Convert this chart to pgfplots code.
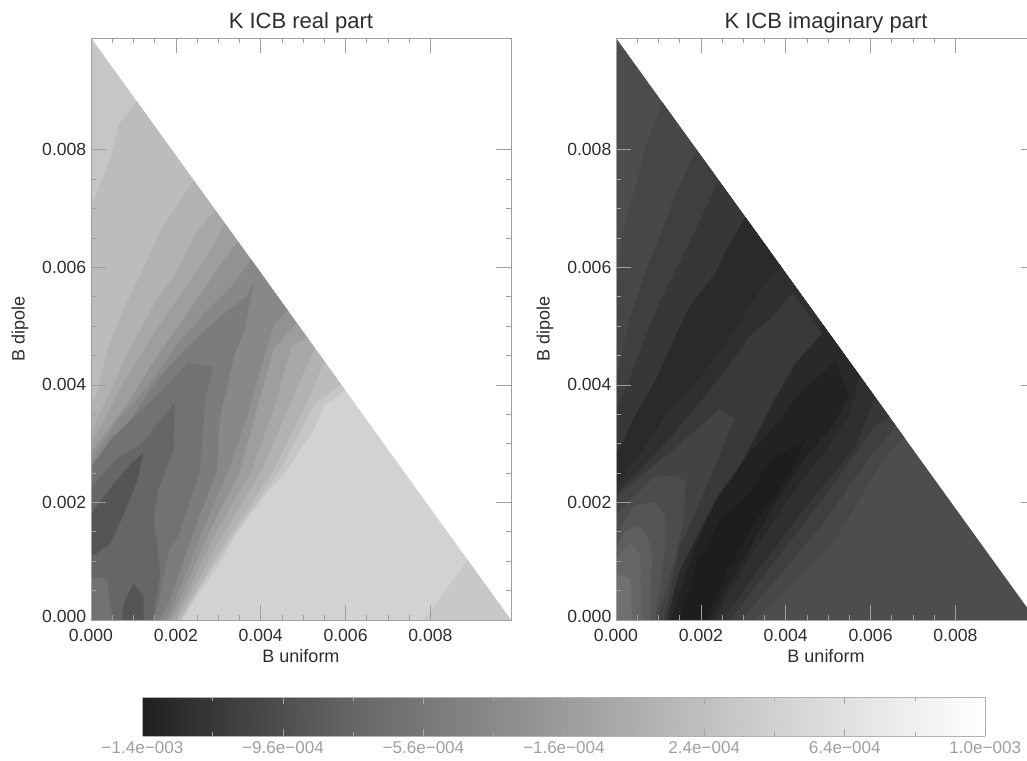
\documentclass[border=0pt]{standalone}
\usepackage{fontspec}
\setmainfont{Liberation Sans}
\usepackage{pgfplots}
\pgfplotsset{compat=1.18}
\definecolor{txt}{HTML}{2E2E2E}
\newcommand{\G}[1]{\definecolor{c#1}{HTML}{#1#1#1}}
\G{D2}\G{C8}\G{C6}\G{BC}\G{B2}\G{A8}\G{9E}\G{92}\G{88}\G{7C}\G{72}\G{66}\G{55}
\G{4D}\G{47}\G{3F}\G{37}\G{2F}\G{2A}\G{29}\G{22}\G{1D}\G{39}\G{43}\G{4C}\G{5E}\G{70}
\pgfplotsset{
  panel/.style={
    scale only axis, width=315pt, height=436.5pt, at={(#1,105pt)}, anchor=south west,
    xmin=0, xmax=0.0099, ymin=0, ymax=0.0099,
    xtick={0,0.002,0.004,0.006,0.008}, ytick={0,0.002,0.004,0.006,0.008},
    yticklabels={\raisebox{6pt}{0.000},0.002,0.004,0.006,0.008},
    scaled ticks=false, minor tick num=3,
    tick align=inside, major tick length=11pt, minor tick length=4pt,
    every tick/.style={gray!75, line width=0.5pt},
    axis line style={gray!75, line width=0.7pt},
    axis on top,
    tick label style={font=\fontsize{13.2}{15}\selectfont, text=txt,
      /pgf/number format/fixed, /pgf/number format/fixed zerofill, /pgf/number format/precision=3, /pgf/number format/assume math mode=true},
    title style={font=\fontsize{16.5}{18}\selectfont, text=txt, at={(0.5,1)}, anchor=south, yshift=-6pt},
    xlabel=B uniform, ylabel=B dipole,
    every axis x label/.style={at={(axis description cs:0.5,0)}, anchor=north, yshift=-18.5pt, font=\fontsize{13.5}{15}\selectfont, text=txt},
    every axis y label/.style={at={(axis description cs:-0.169,0.5)}, rotate=90, anchor=center, font=\fontsize{13.5}{15}\selectfont, text=txt},
    xticklabel style={yshift=-3pt},
  },
  reg/.style={fill=c#1, draw=none, forget plot},
}
\begin{document}
\begin{tikzpicture}
\clip[use as bounding box] (0,0) rectangle (770.25pt,570pt);
% ---------- real part
\begin{axis}[panel=68.25pt, title={K ICB real part}]
\addplot[reg=D2] coordinates {(0,0)(0.0099,0)(0,0.0099)} --cycle;
\addplot[reg=C8] coordinates {(0.00785,0)(0.0081,0.00025)(0.00888,0.00102)(0.0099,0)} --cycle;
\addplot[reg=C6] coordinates {(0,0)(0.00215,0)(0.00238,0.00028)(0.00297,0.0009)(0.00348,0.00153)(0.00407,0.0021)(0.00462,0.00255)(0.00493,0.0029)(0.00525,0.00323)(0.00549,0.00365)(0.006,0.0039)(0,0.0099)} --cycle;
\addplot[reg=BC] coordinates {(0,0)(0.00212,0)(0.00234,0.00028)(0.00332,0.00142)(0.00445,0.00255)(0.00528,0.00369)(0.0059,0.004)(0.00108,0.00882)(0.00065,0.00842)(0.00045,0.00783)(0,0.00704)} --cycle;
\addplot[reg=B2] coordinates {(0,0)(0.00208,0)(0.0023,0.00028)(0.00324,0.00142)(0.0043,0.00255)(0.00509,0.00369)(0.0055,0.0044)(0.00242,0.00748)(0.00165,0.00664)(0.00118,0.0059)(0.00071,0.0052)(0.00039,0.00462)(0.00016,0.00393)(0,0.0036)} --cycle;
\addplot[reg=A8] coordinates {(0,0)(0.002,0)(0.00222,0.00028)(0.00308,0.00142)(0.00403,0.00255)(0.0047,0.00369)(0.00527,0.00463)(0.00293,0.00697)(0.00252,0.00664)(0.00205,0.00596)(0.0015,0.00539)(0.00087,0.00454)(0.00039,0.0038)(0,0.0032)} --cycle;
\addplot[reg=9E] coordinates {(0,0)(0.00193,0)(0.00214,0.00028)(0.00289,0.00142)(0.00379,0.00255)(0.00435,0.00369)(0.00472,0.00465)(0.0051,0.0048)(0.00315,0.00675)(0.00283,0.0063)(0.00236,0.00579)(0.00181,0.00522)(0.00134,0.00471)(0.00071,0.00397)(0.00031,0.0034)(0,0.003)} --cycle;
\addplot[reg=92] coordinates {(0,0)(0.00185,0)(0.00206,0.00028)(0.00273,0.00142)(0.00352,0.00255)(0.00395,0.00369)(0.0043,0.0046)(0.00485,0.00505)(0.00346,0.00644)(0.00307,0.00607)(0.0026,0.00556)(0.00205,0.00499)(0.0015,0.00443)(0.00087,0.00369)(0,0.00285)} --cycle;
\addplot[reg=88] coordinates {(0,0)(0.00175,0)(0.00195,0.00028)(0.00257,0.00142)(0.00324,0.00255)(0.00365,0.0034)(0.00386,0.0039)(0.00417,0.00471)(0.00433,0.00505)(0.00464,0.00526)(0.00378,0.00613)(0.00331,0.00567)(0.00268,0.00522)(0.00205,0.00471)(0.00134,0.00397)(0.00063,0.0034)(0,0.0027)} --cycle;
\addplot[reg=7C] coordinates {(0,0)(0.0016,0)(0.00183,0.00028)(0.00238,0.00142)(0.00297,0.00255)(0.00303,0.0034)(0.00323,0.00403)(0.00338,0.0045)(0.00362,0.00494)(0.00386,0.0058)(0.0037,0.00553)(0.00315,0.00522)(0.00268,0.00493)(0.00228,0.00465)(0.00157,0.0041)(0.00102,0.0035)(0,0.00255)} --cycle;
\addplot[reg=72] coordinates {(0,0)(0.0015,0)(0.00185,0.0012)(0.00206,0.00142)(0.00257,0.00255)(0.00268,0.00369)(0.00287,0.00431)(0.00228,0.00437)(0.0014,0.0037)(0.0005,0.0031)(0,0.0026)} --cycle;
\addplot[reg=66] coordinates {(0.0005,0)(0.00038,0.0007)(0,0.00073)(0,0.00225)(0.0006,0.00275)(0.0012,0.003)(0.00197,0.00369)(0.00195,0.0029)(0.00157,0.0022)(0.00148,0.0017)(0.00164,0.0008)(0.00145,0)} --cycle;
\addplot[reg=55] coordinates {(0,0.00107)(0.00046,0.0013)(0.00077,0.0018)(0.00109,0.00237)(0.00124,0.00285)(0.00097,0.00268)(0.00054,0.00232)(0,0.00181)} --cycle;
\addplot[reg=55] coordinates {(0.00073,0)(0.00077,0.00028)(0.001,0.00062)(0.00124,0.0004)(0.00124,0)} --cycle;
\end{axis}
% ---------- imaginary part
\begin{axis}[panel=462pt, title={K ICB imaginary part}]
\addplot[reg=4D] coordinates {(0,0)(0.0099,0)(0,0.0099)} --cycle;
\addplot[reg=47] coordinates {(0,0)(0.00325,0)(0.0042,0.00065)(0.0051,0.0013)(0.0055,0.00175)(0.00628,0.00272)(0.0068,0.0031)(0.0011,0.0088)(0.00072,0.0081)(0.00017,0.00658)(0,0.0057)} --cycle;
\addplot[reg=3F] coordinates {(0,0)(0.00295,0)(0.0039,0.0008)(0.0049,0.00165)(0.0059,0.0027)(0.0066,0.0033)(0.0019,0.008)(0.00135,0.00715)(0.0011,0.00664)(0.00071,0.00595)(0.00031,0.0051)(0.00008,0.00437)(0,0.0039)} --cycle;
\addplot[reg=37] coordinates {(0,0)(0.0027,0)(0.0037,0.00096)(0.00473,0.00192)(0.0061,0.0033)(0.00645,0.00345)(0.00242,0.00748)(0.00188,0.00664)(0.00149,0.00607)(0.00102,0.00539)(0.00063,0.00471)(0.00031,0.00408)(0,0.00357)} --cycle;
\addplot[reg=2F] coordinates {(0,0)(0.0025,0)(0.0034,0.0009)(0.0045,0.00195)(0.00565,0.00295)(0.0061,0.0038)(0.00305,0.00685)(0.0026,0.0063)(0.00235,0.0059)(0.00173,0.00533)(0.00133,0.00471)(0.00094,0.00408)(0.00039,0.0034)(0.00016,0.003)(0,0.00285)} --cycle;
\addplot[reg=2A] coordinates {(0.00305,0.00685)(0.0039,0.006)(0.00373,0.0059)(0.00329,0.0055)(0.0029,0.00505)(0.00243,0.00454)(0.0018,0.00397)(0.00118,0.00352)(0.00086,0.00312)(0,0.0023)(0,0.00285)(0.00016,0.003)(0.00039,0.0034)(0.00094,0.00408)(0.00133,0.00471)(0.00173,0.00533)(0.00235,0.0059)(0.0026,0.0063)} --cycle;
\addplot[reg=29] coordinates {(0.001,0)(0.0023,0)(0.0031,0.001)(0.0041,0.0021)(0.00502,0.00297)(0.00549,0.0035)(0.00575,0.00415)(0.0049,0.005)(0.0035,0.004)} --cycle;
\addplot[reg=22] coordinates {(0.0013,0)(0.0022,0)(0.0029,0.0009)(0.0036,0.0018)(0.0044,0.0027)(0.0051,0.0033)(0.00549,0.0038)(0.00518,0.0044)(0.00439,0.00392)(0.00392,0.00346)(0.00337,0.003)(0.0027,0.0025)(0.0021,0.0017)(0.00165,0.0008)} --cycle;
\addplot[reg=1D] coordinates {(0.0015,0)(0.0019,0.00096)(0.00245,0.0017)(0.00308,0.00209)(0.0037,0.00277)(0.00434,0.003)(0.0045,0.0031)(0.004,0.00237)(0.0033,0.0017)(0.0026,0.0008)(0.0021,0)} --cycle;
\addplot[reg=39] coordinates {(0,0.00215)(0.0011,0.00295)(0.00196,0.00369)(0.00227,0.00397)(0.00282,0.00448)(0.00314,0.00482)(0.00369,0.00516)(0.00416,0.00556)(0.00486,0.00488)(0.00423,0.00437)(0.00369,0.00369)(0.00337,0.00323)(0.0029,0.0026)(0.0024,0.0021)(0.0019,0.00141)(0.0015,0.00085)(0.0012,0)(0,0)} --cycle;
\addplot[reg=43] coordinates {(0.00112,0)(0.0015,0.00124)(0.00206,0.00215)(0.0026,0.0031)(0.0028,0.00342)(0.00245,0.00359)(0.0016,0.00305)(0,0.00209)(0,0)} --cycle;
\addplot[reg=4C] coordinates {(0.00096,0)(0.00136,0.00096)(0.0016,0.0017)(0.00163,0.00237)(0.0014,0.00245)(0.00089,0.00243)(0,0.0018)(0,0)} --cycle;
\addplot[reg=55] coordinates {(0.00093,0)(0.00116,0.00124)(0.00116,0.0018)(0.00089,0.002)(0.00042,0.00195)(0,0.00141)(0,0)} --cycle;
\addplot[reg=5E] coordinates {(0.0008,0)(0.00085,0.00113)(0.00073,0.00147)(0.0005,0.0016)(0.0002,0.0015)(0,0.0012)(0,0)} --cycle;
\addplot[reg=66] coordinates {(0.0006,0)(0.00057,0.00113)(0.00035,0.0013)(0,0.00107)(0,0)} --cycle;
\addplot[reg=70] coordinates {(0.00038,0)(0.00034,0.00068)(0.00015,0.00076)(0,0.00076)(0,0)} --cycle;
\end{axis}
% ---------- colour bar
\begin{axis}[
  scale only axis, width=632pt, height=29.25pt, at={(106.9pt,18pt)}, anchor=south west,
  view={0}{90}, xmin=-0.0014, xmax=0.001, ymin=0, ymax=1, ytick=\empty,
  xtick={-0.0014,-0.001,-0.0006,-0.0002,0.0002,0.0006,0.001},
  minor xtick={-0.0012,-0.0008,-0.0004,0,0.0004,0.0008},
  xticklabels={−1.4e−003,−9.6e−004,−5.6e−004,−1.6e−004,2.4e−004,6.4e−004,1.0e−003},
  scaled ticks=false,
  tick align=inside, major tick length=5pt, minor tick length=3pt,
  every tick/.style={gray!70, line width=0.5pt},
  axis line style={gray!60, line width=0.6pt}, axis on top,
  xticklabel style={font=\fontsize{12.8}{14}\selectfont, text=gray!75, yshift=-1pt},
  colormap={kbar}{gray(0cm)=(0.125); gray(1cm)=(0.22); gray(3cm)=(0.40); gray(6cm)=(0.61); gray(9cm)=(0.82); gray(12cm)=(1)},
]
\addplot3[surf, shader=interp, point meta=x, mesh/rows=2] coordinates {
(-0.0014,0,0)(0.001,0,0)
(-0.0014,1,0)(0.001,1,0)};
\end{axis}
\end{tikzpicture}
\end{document}
